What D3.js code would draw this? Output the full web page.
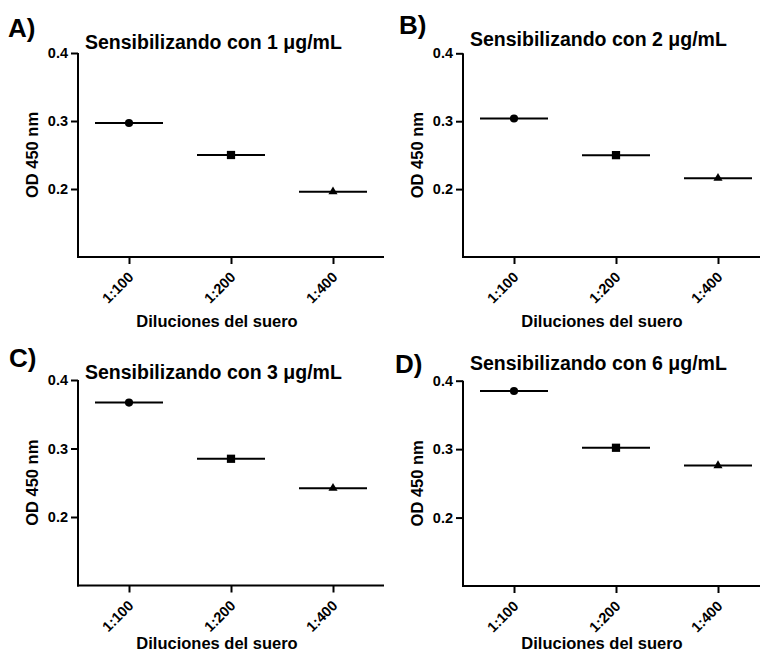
<!DOCTYPE html>
<html>
<head>
<meta charset="utf-8">
<script src="https://cdn.jsdelivr.net/npm/d3@7"></script>
<style>
  body { margin: 0; background: #fff; }
  text { font-family: "Liberation Sans", Arial, sans-serif; font-weight: bold; fill: #000; }
  .axis path, .axis line { stroke: #000; stroke-width: 2; }
</style>
</head>
<body>
<svg id="chart"></svg>
<script>
// data
var diluciones = ["1:100", "1:200", "1:400"];
var panelLabels = ["A)", "B)", "C)", "D)"];
var concentraciones = [1, 2, 3, 6];
var od1 = [0.297, 0.250, 0.196];
var od2 = [0.304, 0.250, 0.216];
var od3 = [0.367, 0.285, 0.242];
var od6 = [0.385, 0.302, 0.276];
var yTicks = [0.2, 0.3, 0.4];
var yDomain = [0.1, 0.4];

var w = 760;
var h = 655;

var svg = d3.select("#chart")
  .attr("width", w)
  .attr("height", h);

// panel placement (axis origin, top of y axis, title / label spots)
var panels = [
  {values: od1, ax: 78,  top: 53,    bottom: 257,   tx: 85,  ty: 49,   lx: 8,   ly: 37,    xl: 327},
  {values: od2, ax: 463, top: 53.3,  bottom: 257,   tx: 470, ty: 45.5, lx: 399, ly: 33.5,  xl: 327},
  {values: od3, ax: 78,  top: 380,   bottom: 585.5, tx: 85,  ty: 379,  lx: 9,   ly: 366.5, xl: 649},
  {values: od6, ax: 463, top: 380.7, bottom: 586,   tx: 470, ty: 370,  lx: 395, ly: 373,   xl: 649}
];

var symbols = [d3.symbolCircle, d3.symbolSquare, d3.symbolTriangle];
var symbolSizes = [52, 68, 36];
var plotW = 306;

panels.forEach(function(p, i) {
  var g = svg.append("g");

  var xScale = d3.scalePoint()
    .domain(diluciones)
    .range([p.ax, p.ax + plotW])
    .padding(0.5);
  var step = xScale.step();

  var yScale = d3.scaleLinear()
    .domain(yDomain)
    .range([p.bottom, p.top]);

  // y axis
  var yAxis = d3.axisLeft(yScale)
    .tickValues(yTicks)
    .tickFormat(d3.format(".1f"))
    .tickSizeOuter(0)
    .tickSize(7)
    .tickPadding(3);
  var ya = g.append("g")
    .attr("class", "axis")
    .attr("font-size", null)
    .attr("font-family", null)
    .attr("transform", "translate(" + p.ax + ",0)")
    .call(yAxis);
  ya.select(".domain").attr("d", "M0," + yScale(0.4) + "V" + (p.bottom + 1));
  ya.selectAll("text")
    .style("font-size", "14.5px");

  // x axis
  var xAxis = d3.axisBottom(xScale)
    .tickSizeOuter(0)
    .tickSize(7);
  var xa = g.append("g")
    .attr("class", "axis")
    .attr("transform", "translate(0," + p.bottom + ")")
    .call(xAxis);
  xa.select(".domain").attr("d", "M" + (p.ax - 1) + ",0H" + (p.ax + plotW));
  xa.selectAll("text")
    .style("font-size", "14.5px")
    .style("text-anchor", "end")
    .attr("x", 0)
    .attr("y", 0)
    .attr("dy", 0)
    .attr("transform", "translate(5,21) rotate(-45)");

  // mean lines
  g.selectAll(".mean")
    .data(p.values)
    .enter()
    .append("line")
    .attr("x1", function(d, j) { return xScale(diluciones[j]) - step / 3; })
    .attr("x2", function(d, j) { return xScale(diluciones[j]) + step / 3; })
    .attr("y1", function(d) { return yScale(d); })
    .attr("y2", function(d) { return yScale(d); })
    .attr("stroke", "#000")
    .attr("stroke-width", 2);

  // markers
  g.selectAll(".pt")
    .data(p.values)
    .enter()
    .append("path")
    .attr("d", function(d, j) {
      return d3.symbol().type(symbols[j]).size(symbolSizes[j])();
    })
    .attr("transform", function(d, j) {
      return "translate(" + xScale(diluciones[j]) + "," + yScale(d) + ")";
    })
    .attr("fill", "#000");

  // titles and labels
  g.append("text")
    .text("Sensibilizando con " + concentraciones[i] + " \u03bcg/mL")
    .attr("x", p.tx)
    .attr("y", p.ty)
    .style("font-size", "19.5px");

  g.append("text")
    .text(panelLabels[i])
    .attr("x", p.lx)
    .attr("y", p.ly)
    .style("font-size", "26px");

  g.append("text")
    .text("OD 450 nm")
    .attr("text-anchor", "middle")
    .attr("transform", "translate(" + (p.ax - 40) + "," + ((p.top + p.bottom) / 2) + ") rotate(-90)")
    .style("font-size", "16.5px");

  g.append("text")
    .text("Diluciones del suero")
    .attr("text-anchor", "middle")
    .attr("x", p.ax + plotW / 2 - 14)
    .attr("y", p.xl)
    .style("font-size", "16.5px");
});
</script>
</body>
</html>
